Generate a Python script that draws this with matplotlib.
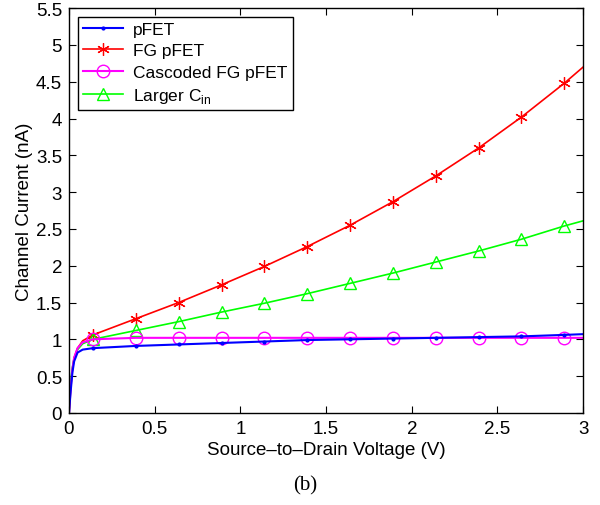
import matplotlib
matplotlib.use('Agg')
import matplotlib.pyplot as plt

plt.rcParams['font.family'] = ['Liberation Sans', 'DejaVu Sans']

vds = [0, 0.01, 0.02, 0.03, 0.05, 0.08, 0.14, 0.39, 0.64, 0.89, 1.14, 1.39,
       1.64, 1.89, 2.14, 2.39, 2.64, 2.89, 3.0]
pfet = [0, 0.30, 0.55, 0.70, 0.82, 0.86, 0.88, 0.91, 0.93, 0.95, 0.97, 0.99,
        1.00, 1.01, 1.02, 1.03, 1.04, 1.06, 1.07]
fg_pfet = [0, 0.35, 0.60, 0.75, 0.88, 0.98, 1.06, 1.28, 1.50, 1.74, 1.99, 2.26,
           2.55, 2.87, 3.22, 3.60, 4.02, 4.48, 4.70]
cascoded = [0, 0.35, 0.60, 0.75, 0.88, 0.96, 1.00, 1.02, 1.02, 1.02, 1.02, 1.02,
            1.02, 1.02, 1.02, 1.02, 1.02, 1.02, 1.02]
larger_cin = [0.2, 0.45, 0.62, 0.74, 0.86, 0.94, 1.00, 1.12, 1.24, 1.37, 1.49, 1.62,
              1.76, 1.90, 2.05, 2.20, 2.36, 2.54, 2.61]

marks = list(range(6, 18))

fig = plt.figure(figsize=(6, 5.06), dpi=100)
ax = fig.add_axes([0.115, 0.182, 0.857, 0.8])

ax.plot(vds, fg_pfet, color='red', marker=(6, 2, 0), ms=9, mew=0.9, markevery=marks,
        lw=1.2, label='FG pFET')
ax.plot(vds, larger_cin, color='#00ff00', marker='^', ms=9, mfc='none', mew=1,
        markevery=marks, lw=1.2, label='Larger C$_\\mathregular{in}$')
ax.plot(vds, cascoded, color='magenta', marker='o', ms=9, mfc='none', mew=1,
        markevery=marks, lw=1.5, label='Cascoded FG pFET')
ax.plot(vds, pfet, color='blue', marker='.', ms=4, markevery=marks,
        lw=1.5, label='pFET')

h, l = ax.get_legend_handles_labels()
order = [3, 0, 2, 1]
leg = ax.legend([h[i] for i in order], [l[i] for i in order], loc='upper left',
                fontsize=12.5, fancybox=False, edgecolor='black', framealpha=1,
                borderpad=0.3, labelspacing=0.35, handlelength=2.3,
                handletextpad=0.6, borderaxespad=0.5)
leg.get_frame().set_linewidth(1.0)

ax.set_xlim(0, 3)
ax.set_ylim(0, 5.5)
ax.set_xticks([0, 0.5, 1, 1.5, 2, 2.5, 3])
ax.set_xticklabels(['0', '0.5', '1', '1.5', '2', '2.5', '3'])
ax.set_yticks([0, 0.5, 1, 1.5, 2, 2.5, 3, 3.5, 4, 4.5, 5, 5.5])
ax.set_yticklabels(['0', '0.5', '1', '1.5', '2', '2.5', '3', '3.5', '4',
                    '4.5', '5', '5.5'])
ax.tick_params(direction='in', top=True, right=True, labelsize=13.5, length=5, pad=5)
ax.set_xlabel('Source\u2013to\u2013Drain Voltage (V)', fontsize=13.5, labelpad=3)
ax.set_ylabel('Channel Current (nA)', fontsize=13.5, labelpad=2)
for s in ax.spines.values():
    s.set_linewidth(1.0)

fig.text(0.508, 0.04, '(b)', fontsize=15, family='Liberation Serif',
         ha='center', va='center')

plt.savefig('out.png', dpi=100)
